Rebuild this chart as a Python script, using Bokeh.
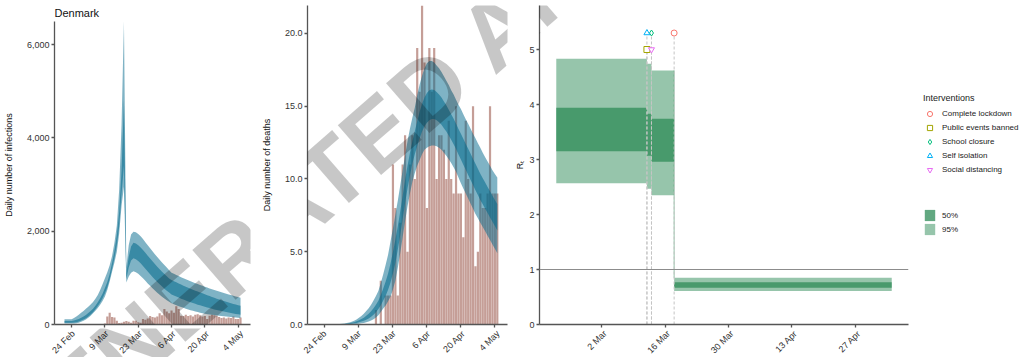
import numpy as np
import pandas as pd
from math import pi, radians
from bokeh.plotting import figure
from bokeh.layouts import row, column
from bokeh.models import (FixedTicker, NumeralTickFormatter, Label, Legend, LegendItem,
                          Span, Range1d)
from bokeh.core.properties import value
from bokeh.embed import file_html
from bokeh.resources import INLINE

# ---------------- data ----------------
START = "2020-02-21"
END = "2020-05-05"
dates = pd.date_range(START, END, freq="D")          # 75 days

country = "Denmark"

# reported daily cases (bars, panel 1)
cases = [0, 0, 0, 0, 0, 0, 1, 0, 0,
         0, 2, 1, 5, 5, 10, 3, 5,
         20, 172, 252, 160, 150, 80, 30, 35, 60, 75, 60, 40, 80, 80, 50, 40, 120, 100, 130, 180, 160, 150, 170,
         240, 200, 330, 280, 240, 300, 250, 390, 330, 190, 180, 210, 180, 200, 170, 210, 220, 200, 170, 180,
         120, 190, 210, 200, 180, 160, 140, 150, 130, 150,
         140, 170, 120, 120, 150]

# estimated daily infections, credible intervals
inf_l95 = [20, 20, 20, 20, 22, 28, 40, 58, 80,
           108, 145, 190, 240, 295, 355, 425, 505, 600, 740, 920, 1130, 1330, 1560, 1950, 2550, 2950,
           900, 1030, 1110, 1140, 1120, 1085, 1040, 990, 935, 880, 828, 777, 728, 682,
           638, 597, 558, 521, 487, 455, 433, 413, 393, 375, 357, 340, 324, 308, 294, 280, 266, 254, 242, 230,
           222, 215, 208, 201, 195, 188, 182, 176, 170, 165,
           160, 155, 150, 145, 140]
inf_l50 = [40, 40, 40, 40, 42, 50, 65, 85, 108,
           135, 170, 215, 265, 325, 395, 470, 560, 670, 800, 970, 1190, 1420, 1700, 2100, 2800, 3400,
           975, 1220, 1370, 1420, 1400, 1360, 1310, 1255, 1195, 1135, 1075, 1018, 962, 910,
           860, 812, 767, 725, 685, 645, 621, 598, 576, 554, 534, 514, 495, 476, 459, 442, 425, 410, 394, 380,
           365, 351, 337, 324, 312, 300, 288, 277, 266, 256,
           246, 236, 227, 218, 210]
inf_u50 = [75, 75, 75, 75, 85, 100, 120, 145, 172,
           205, 245, 290, 340, 400, 475, 560, 660, 780, 910, 1080, 1320, 1580, 1920, 2420, 3300, 4800,
           1100, 1450, 1670, 1750, 1735, 1700, 1650, 1595, 1535, 1475, 1415, 1355, 1297, 1240,
           1185, 1132, 1082, 1034, 988, 955, 929, 904, 879, 855, 832, 810, 788, 766, 746, 725, 706, 687, 668, 650,
           629, 609, 590, 571, 553, 535, 518, 501, 485, 470,
           455, 440, 426, 413, 400]
inf_u95 = [110, 110, 110, 115, 140, 170, 210, 250, 290,
           335, 380, 430, 480, 550, 630, 740, 860, 990, 1120, 1270, 1470, 1750, 2120, 2900, 4300, 6500,
           1230, 1700, 1930, 1990, 1975, 1940, 1890, 1830, 1765, 1700, 1635, 1570, 1505, 1445,
           1385, 1330, 1275, 1220, 1165, 1110, 1085, 1061, 1037, 1014, 992, 970, 948, 927, 906, 886, 866, 847, 828, 810,
           792, 774, 756, 739, 723, 706, 690, 675, 660, 645,
           630, 616, 602, 588, 575]

# reported daily deaths (bars, panel 2)
deaths = [0] * 24 + [1, 0, 3, 0, 2, 2, 2, 11, 8, 2, 7, 11, 13, 5, 11, 13,
                     10, 19, 16, 22, 18, 8, 19, 16, 19, 10, 13, 13, 12, 10, 14, 10, 9, 15, 9, 9,
                     6, 14, 10, 9, 15, 4, 5, 9, 8, 8,
                     9, 15, 9, 9, 9]

# estimated daily deaths, credible intervals
d_l95 = [0] * 9 + [0, 0, 0, 0.01, 0.01, 0.02, 0.03, 0.04, 0.06, 0.08, 0.11, 0.15, 0.2, 0.27, 0.36, 0.48,
                   0.64, 0.86, 1.1, 1.3, 1.6, 1.9, 2.4, 3.0, 3.9, 4.9, 6.0, 7.1, 8.1, 9.0, 9.8,
                   10.4, 10.9, 11.3, 11.7, 12.0, 12.15, 12.25, 12.3, 12.3, 12.25, 12.15, 12.0, 11.8, 11.6, 11.35,
                   11.1, 10.8, 10.5, 10.1, 9.7,
                   9.35, 9.0, 8.65, 8.3, 7.95, 7.6, 7.3, 7.0, 6.7, 6.4,
                   6.1, 5.8, 5.5, 5.2, 4.9]
d_l50 = [0] * 9 + [0.01, 0.01, 0.02, 0.03, 0.04, 0.06, 0.08, 0.11, 0.15, 0.2, 0.25, 0.33, 0.41, 0.53, 0.67, 0.84,
                   1.06, 1.33, 1.65, 1.98, 2.38, 2.88, 3.5, 4.23, 5.13, 6.13, 7.24, 8.34, 9.34, 10.24, 11.04,
                   11.7, 12.27, 12.8, 13.26, 13.63, 13.87, 14.04, 14.12, 14.12, 14.04, 13.9, 13.72, 13.49, 13.26,
                   12.98, 12.69, 12.39, 12.06, 11.69, 11.33,
                   10.98, 10.63, 10.28, 9.93, 9.58, 9.23, 8.89, 8.56, 8.26, 7.96,
                   7.66, 7.36, 7.06, 6.76, 6.46]
d_u50 = [0] * 9 + [0.02, 0.03, 0.04, 0.06, 0.09, 0.12, 0.16, 0.22, 0.29, 0.38, 0.47, 0.6, 0.74, 0.91, 1.12, 1.36,
                   1.64, 2.02, 2.47, 2.96, 3.5, 4.2, 4.98, 5.83, 6.75, 7.76, 8.85, 9.91, 10.91, 11.79, 12.58,
                   13.28, 13.96, 14.62, 15.15, 15.59, 15.9, 16.09, 16.15, 16.12, 15.98, 15.81, 15.6, 15.33, 15.06,
                   14.76, 14.44, 14.14, 13.79, 13.44, 13.11,
                   12.76, 12.41, 12.08, 11.73, 11.38, 11.05, 10.7, 10.36, 10.05, 9.75,
                   9.45, 9.15, 8.85, 8.56, 8.28]
d_u95 = [0] * 9 + [0.03, 0.05, 0.07, 0.1, 0.14, 0.19, 0.26, 0.35, 0.46, 0.59, 0.74, 0.92, 1.12, 1.36, 1.65, 1.96,
                   2.3, 2.85, 3.45, 4.1, 4.8, 5.7, 6.6, 7.55, 8.5, 9.55, 10.6, 11.6, 12.6, 13.45, 14.2,
                   14.9, 15.75, 16.5, 17.1, 17.6, 17.95, 18.1, 18.1, 18.0, 17.8, 17.6, 17.35, 17.05, 16.75,
                   16.45, 16.1, 15.8, 15.45, 15.1, 14.8,
                   14.45, 14.1, 13.8, 13.45, 13.1, 12.8, 12.45, 12.15, 11.8, 11.5,
                   11.2, 10.9, 10.6, 10.35, 10.1]

# reproduction number, piecewise constant
rt_start = ["2020-02-21", "2020-03-12", "2020-03-13", "2020-03-18"]
rt_end = ["2020-03-12", "2020-03-13", "2020-03-18", "2020-05-05"]
rt_l95 = [2.57, 2.47, 2.35, 0.61]
rt_u95 = [4.83, 4.74, 4.62, 0.85]
rt_l50 = [3.15, 3.07, 2.96, 0.67]
rt_u50 = [3.94, 3.83, 3.74, 0.77]

# interventions
interventions = ["Complete lockdown", "Public events banned", "School closure",
                 "Self isolation", "Social distancing"]
int_dates = ["2020-03-18", "2020-03-12", "2020-03-13", "2020-03-12", "2020-03-13"]
int_level = [5.3, 5.0, 5.3, 5.3, 5.0]

# axis ticks
ticks_12 = ["2020-02-24", "2020-03-09", "2020-03-23", "2020-04-06", "2020-04-20", "2020-05-04"]
labels_12 = ["24 Feb", "9 Mar", "23 Mar", "6 Apr", "20 Apr", "4 May"]
ticks_3 = ["2020-03-02", "2020-03-16", "2020-03-30", "2020-04-13", "2020-04-27"]
labels_3 = ["2 Mar", "16 Mar", "30 Mar", "13 Apr", "27 Apr"]

for arr in (cases, inf_l95, inf_l50, inf_u50, inf_u95, deaths, d_l95, d_l50, d_u50, d_u95):
    assert len(arr) == len(dates), len(arr)

# ---------------- helpers ----------------
T0 = pd.Timestamp(START)


def day(s):
    return (pd.Timestamp(s) - T0).days


days = [day(d) for d in dates]

FONT = "Liberation Sans"
AXC = "#555555"
BLUE = "#00688B"      # deepskyblue4
CORAL = "#8B3E2F"     # coral4
GREEN = "#2E8B57"     # seagreen
W = 1024
HP = 328              # height of the panel row
STRIP = 29            # strip under the panels holding the slanted date labels
TOP = 5
BOT = 4
FB = HP - BOT         # page y of the frames' bottom edge (324)

int_markers = ["circle", "square", "diamond", "triangle", "inverted_triangle"]
int_colors = ["#F8766D", "#A3A500", "#00BF7D", "#00B0F6", "#E76BF3"]

# geometry of the three panels: figure width, left/right border, x range
G1 = dict(width=258, left=52, right=8, xr=(-4.2, 78.2), ylab_gap=10)
G2 = dict(width=254, left=45, right=5, xr=(-4.2, 78.2), ylab_gap=10)
G3 = dict(width=400, left=27, right=4, xr=(-3.7, 77.7), ylab_gap=1)
WL = W - G1["width"] - G2["width"] - G3["width"]


def make_fig(g, yr):
    p = figure(width=g["width"], height=HP, x_range=Range1d(*g["xr"]), y_range=Range1d(*yr),
               output_backend="svg", toolbar_location=None,
               min_border_left=g["left"], min_border_right=g["right"],
               min_border_top=TOP, min_border_bottom=BOT)
    p.grid.visible = False
    p.outline_line_color = None
    for ax in (p.xaxis[0], p.yaxis[0]):
        ax.axis_line_color = AXC
        ax.axis_line_width = 1.3
        ax.major_tick_line_color = AXC
        ax.major_tick_line_width = 1.3
        ax.major_tick_out = 3
        ax.major_tick_in = 0
        ax.minor_tick_line_color = None
        ax.major_label_text_font = FONT
        ax.major_label_text_font_size = "9px"
        ax.major_label_text_color = "#333333"
        ax.axis_label_text_font = FONT
        ax.axis_label_text_font_size = "9px"
        ax.axis_label_text_font_style = "normal"
        ax.axis_label_text_color = "#111111"
        ax.major_label_standoff = 2
        ax.axis_label_standoff = 3
    p.yaxis[0].axis_label_standoff = g["ylab_gap"]
    # slanted date labels are drawn in the strip below
    p.xaxis[0].major_label_text_color = None
    return p


def watermark(p, sx, sy):
    p.add_layout(Label(x=sx, y=sy, x_units="screen", y_units="screen",
                       text="GENERATED AI", angle=radians(41),
                       text_font=FONT, text_font_size="96px", text_font_style="bold",
                       text_color="black", text_alpha=0.22,
                       text_align="center", text_baseline="middle"))


# ---------------- panel 1: infections ----------------
p1 = make_fig(G1, (0, 6836))
p1.vbar(x=days, top=cases, width=0.9, fill_color=CORAL, fill_alpha=0.5, line_color=None)
p1.varea(x=days, y1=inf_l95, y2=inf_u95, fill_color=BLUE, fill_alpha=0.5)
p1.varea(x=days, y1=inf_l50, y2=inf_u50, fill_color=BLUE, fill_alpha=0.55)
p1.yaxis[0].axis_label = "Daily number of infections"
p1.yaxis[0].ticker = FixedTicker(ticks=[0, 2000, 4000, 6000])
p1.yaxis[0].formatter = NumeralTickFormatter(format="0,0")
p1.yaxis[0].bounds = (0, 6500)
p1.xaxis[0].ticker = FixedTicker(ticks=[day(t) for t in ticks_12])
p1.add_layout(Label(x=0, y=FB - 12.5, x_units="screen", y_units="screen", text=country,
                    text_font=FONT, text_font_size="11px", text_color="#111111",
                    text_align="left", text_baseline="alphabetic"))

# ---------------- panel 2: deaths ----------------
p2 = make_fig(G2, (0, 21.92))
p2.vbar(x=days, top=deaths, width=0.9, fill_color=CORAL, fill_alpha=0.5, line_color=None)
p2.varea(x=days, y1=d_l95, y2=d_u95, fill_color=BLUE, fill_alpha=0.5)
p2.varea(x=days, y1=d_l50, y2=d_u50, fill_color=BLUE, fill_alpha=0.55)
p2.yaxis[0].axis_label = "Daily number of deaths"
p2.yaxis[0].ticker = FixedTicker(ticks=[0, 5, 10, 15, 20])
p2.yaxis[0].formatter = NumeralTickFormatter(format="0.0")
p2.xaxis[0].ticker = FixedTicker(ticks=[day(t) for t in ticks_12])

# ---------------- panel 3: Rt ----------------
p3 = make_fig(G3, (0, 5.8))
rl = [day(s) for s in rt_start]
rr = [day(s) for s in rt_end]
p3.quad(left=rl, right=rr, bottom=rt_l95, top=rt_u95, fill_color=GREEN, fill_alpha=0.5, line_color=None)
p3.quad(left=rl, right=rr, bottom=rt_l50, top=rt_u50, fill_color=GREEN, fill_alpha=0.75, line_color=None)
p3.segment(x0=[rl[3]], y0=[rt_u95[3]], x1=[rl[3]], y1=[rt_u95[2]],
           line_color=GREEN, line_alpha=0.5, line_width=1)
p3.add_layout(Span(location=1, dimension="width", line_color="#8c8c8c", line_width=1))
idays = [day(s) for s in int_dates]
p3.segment(x0=idays, y0=[0] * len(idays), x1=idays, y1=int_level,
           line_color="#c4c4c4", line_width=1, line_dash="3 2")
p3.scatter(x=idays, y=int_level, marker=int_markers, line_color=int_colors,
           fill_color="white", size=6, line_width=1)
p3.yaxis[0].axis_label = "R\u209c"
p3.yaxis[0].ticker = FixedTicker(ticks=[0, 1, 2, 3, 4, 5])
p3.xaxis[0].ticker = FixedTicker(ticks=[day(t) for t in ticks_3])

# ---------------- legend panel ----------------
pl = figure(width=WL, height=HP, x_range=Range1d(0, 1), y_range=Range1d(0, 1),
            x_axis_type=None, y_axis_type=None, output_backend="svg",
            toolbar_location=None, min_border_left=0, min_border_right=0,
            min_border_top=TOP, min_border_bottom=BOT)
pl.grid.visible = False
pl.outline_line_color = None
items = []
for name, m, c in zip(interventions, int_markers, int_colors):
    r = pl.scatter(x=[-5], y=[-5], marker=m, line_color=c, fill_color="white", size=6, line_width=1)
    items.append(LegendItem(label=name, renderers=[r]))
leg1 = Legend(items=items, location=(11, FB - 176), title="Interventions",
              title_text_font=FONT, title_text_font_size="9px", title_text_font_style="normal",
              title_text_color="#222222", title_standoff=4,
              label_text_font=FONT, label_text_font_size="8px", label_text_color="#222222",
              glyph_width=13, glyph_height=13, label_height=13, spacing=1, label_standoff=6,
              padding=0, margin=0, border_line_color=None, background_fill_alpha=0)
pl.add_layout(leg1)
r50 = pl.quad(left=[-5], right=[-4], bottom=[-5], top=[-4], fill_color=GREEN, fill_alpha=0.75, line_color=None)
r95 = pl.quad(left=[-5], right=[-4], bottom=[-5], top=[-4], fill_color=GREEN, fill_alpha=0.5, line_color=None)
leg2 = Legend(items=[LegendItem(label="50%", renderers=[r50]), LegendItem(label="95%", renderers=[r95])],
              location=(11, FB - 236),
              label_text_font=FONT, label_text_font_size="8px", label_text_color="#222222",
              glyph_width=13, glyph_height=14, label_height=14, spacing=0, label_standoff=6,
              padding=0, margin=0, border_line_color=None, background_fill_alpha=0)
pl.add_layout(leg2)

# ---------------- strip with the slanted date labels ----------------
strip = figure(width=W, height=STRIP, x_range=Range1d(0, W), y_range=Range1d(-STRIP, 0),
               x_axis_type=None, y_axis_type=None, output_backend="svg", toolbar_location=None,
               min_border_left=0, min_border_right=0, min_border_top=0, min_border_bottom=0)
strip.grid.visible = False
strip.outline_line_color = None


def strip_range(x0, g):
    """x range of the strip that reproduces panel g's scale (panel figure starts at page x0)."""
    fl = x0 + g["left"]
    fr = x0 + g["width"] - g["right"]
    a, b = g["xr"]
    u = (b - a) / (fr - fl)
    return Range1d(a - fl * u, a + (W - fl) * u)


x1 = 0
x2 = G1["width"]
x3 = x2 + G2["width"]
strip.extra_x_ranges = {"p1": strip_range(x1, G1), "p2": strip_range(x2, G2), "p3": strip_range(x3, G3)}
for name, tks, labs in (("p1", ticks_12, labels_12), ("p2", ticks_12, labels_12), ("p3", ticks_3, labels_3)):
    strip.text(x=[day(t) for t in tks], y=[-(FB + 4 - HP)] * len(tks), text=labs,
               angle=pi / 4, text_align="right", text_baseline="top",
               text_font=value(FONT), text_font_size="9px", text_color="#333333",
               x_range_name=name)

# ---------------- watermark (spans panels) ----------------
WX, WY = 272, 221          # centre on the page
watermark(p1, WX - (x1 + G1["left"]), FB - WY)
watermark(p2, WX - (x2 + G2["left"]), FB - WY)
watermark(p3, WX - (x3 + G3["left"]), FB - WY)
watermark(strip, WX, HP + STRIP - WY)

layout = column(row(p1, p2, p3, pl, spacing=0), strip, spacing=0)
open("out.html", "w").write(file_html(layout, INLINE))
